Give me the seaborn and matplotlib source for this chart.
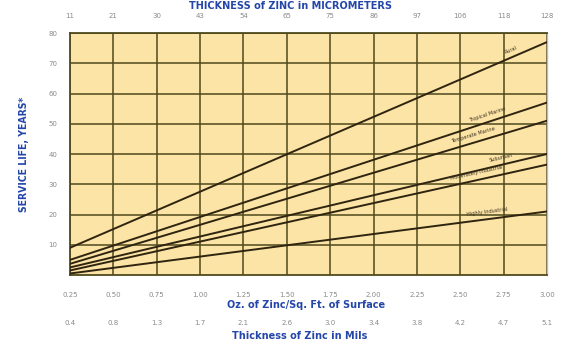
import numpy as np
import pandas as pd
import matplotlib
matplotlib.use("Agg")
import matplotlib.pyplot as plt
import seaborn as sns

# Coating weight (oz of zinc per sq. ft.) at the two ends of each service-life line
coating_oz = [0.25, 3.00]

# Service life in years at those coating weights
rural = [9.0, 77.0]
tropical_marine = [5.0, 57.0]
temperate_marine = [3.7, 51.0]
suburban = [2.5, 40.0]
moderately_industrial = [1.5, 36.5]
highly_industrial = [0.5, 21.0]

series_names = ["Rural", "Tropical Marine", "Temperate Marine", "Suburban",
                "Moderately Industrial", "Highly Industrial"]
series_values = [rural, tropical_marine, temperate_marine, suburban,
                 moderately_industrial, highly_industrial]
# where along the line each label sits (oz/sq. ft.)
label_at = [2.80, 2.66, 2.58, 2.74, 2.60, 2.66]

oz_ticks = [0.25, 0.50, 0.75, 1.00, 1.25, 1.50, 1.75, 2.00, 2.25, 2.50, 2.75, 3.00]
oz_labels = ["0.25", "0.50", "0.75", "1.00", "1.25", "1.50", "1.75", "2.00",
             "2.25", "2.50", "2.75", "3.00"]
micrometer_labels = ["11", "21", "30", "43", "54", "65", "75", "86", "97", "106",
                     "118", "128"]
mils_labels = ["0.4", "0.8", "1.3", "1.7", "2.1", "2.6", "3.0", "3.4", "3.8", "4.2",
               "4.7", "5.1"]
year_ticks = [10, 20, 30, 40, 50, 60, 70, 80]

rows = []
for name, vals in zip(series_names, series_values):
    for x, y in zip(coating_oz, vals):
        rows.append({"oz": x, "years": y, "environment": name})
df = pd.DataFrame(rows)

sns.set_style("white")
plt.rcParams["font.family"] = ["DejaVu Sans"]

BLUE = "#2446a8"
GRAY = "#8a8a8a"
GRID = "#4f4a1c"
LINE = "#2e2410"
FILL = "#fce4a6"

fig = plt.figure(figsize=(5.61, 3.46), dpi=100)
ax = fig.add_axes([0.1248, 0.2052, 0.8502, 0.6994])
ax.set_facecolor(FILL)

sns.lineplot(data=df, x="oz", y="years", hue="environment",
             palette=[LINE] * len(series_names), linewidth=1.4,
             legend=False, ax=ax, zorder=3)

ax.set_xlim(0.25, 3.00)
ax.set_ylim(0, 80)
ax.set_xticks(oz_ticks)
ax.set_yticks(year_ticks)
ax.grid(True, color=GRID, linewidth=1.1, zorder=1)
ax.set_axisbelow(True)
for side in ["left", "bottom", "top"]:
    ax.spines[side].set_color(GRID)
    ax.spines[side].set_linewidth(1.3)
ax.spines["right"].set_color("#b9b9c8")
ax.spines["right"].set_linewidth(1.0)

ax.tick_params(axis="both", length=0, labelsize=5, labelcolor=GRAY)
ax.set_xticklabels(oz_labels)
ax.tick_params(axis="x", pad=12)
ax.tick_params(axis="y", pad=9)
ax.set_xlabel("")
ax.set_ylabel("SERVICE LIFE, YEARS*", color=BLUE, fontsize=7.5,
              fontweight="bold", fontstretch="condensed", labelpad=14)

# top axis: thickness in micrometers
top = ax.twiny()
top.set_xlim(ax.get_xlim())
top.set_xticks(oz_ticks)
top.set_xticklabels(micrometer_labels)
top.tick_params(axis="x", length=0, labelsize=5, labelcolor=GRAY, pad=10)
for s in top.spines.values():
    s.set_visible(False)

fig.text(0.517, 0.982, "THICKNESS of ZINC in MICROMETERS", color=BLUE,
         fontsize=7, fontweight="bold", ha="center", va="center")

# second row under the axis: thickness in mils
for x, lab in zip(oz_ticks, mils_labels):
    ax.annotate(lab, xy=(x, 0.066), xycoords=("data", "figure fraction"),
                ha="center", va="center", fontsize=5, color=GRAY,
                annotation_clip=False)

fig.text(0.545, 0.118, "Oz. of Zinc/Sq. Ft. of Surface", color=BLUE,
         fontsize=7, fontweight="bold", ha="center", va="center")
fig.text(0.535, 0.028, "Thickness of Zinc in Mils", color=BLUE,
         fontsize=7, fontweight="bold", ha="center", va="center")

# line labels, rotated to follow each line
fig.canvas.draw()
for name, vals, xl in zip(series_names, series_values, label_at):
    x0, x1 = coating_oz
    y0, y1 = vals
    p0 = ax.transData.transform((x0, y0))
    p1 = ax.transData.transform((x1, y1))
    ang = np.degrees(np.arctan2(p1[1] - p0[1], p1[0] - p0[0]))
    yl = y0 + (y1 - y0) * (xl - x0) / (x1 - x0)
    ax.annotate(name, xy=(xl, yl), xytext=(0, 3.5), textcoords="offset points",
                rotation=ang, rotation_mode="anchor", ha="center", va="bottom",
                fontsize=3.6, color="#3a3020", zorder=4)

fig.savefig("out.png", dpi=100, facecolor="white")
